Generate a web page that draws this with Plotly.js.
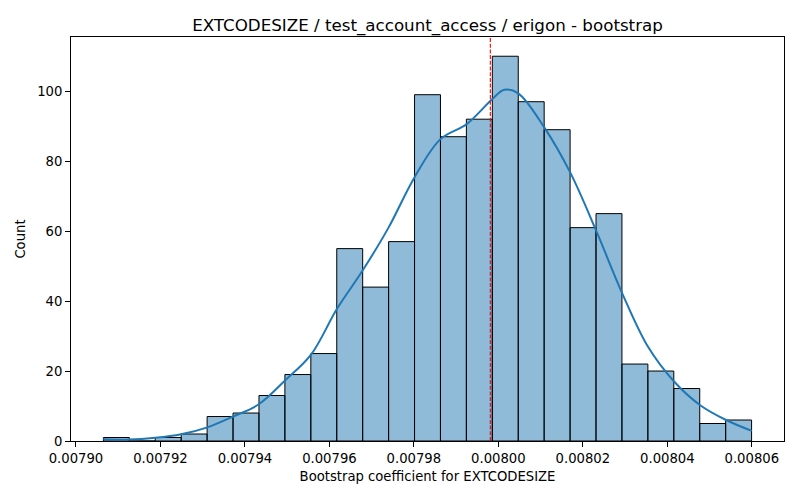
<!DOCTYPE html>
<html>
<head>
<meta charset="utf-8">
<script src="https://cdn.plot.ly/plotly-3.0.1.min.js"></script>
<style>
html,body{margin:0;padding:0;background:#fff;}
#chart{width:800px;height:500px;}
</style>
</head>
<body>
<div id="chart"></div>
<script>
// Histogram data
var binStart = 0.0079065;
var binWidth = 0.000006138;
var counts = [1, 0, 1, 2, 7, 8, 13, 19, 25, 55, 44, 57, 99, 87, 92, 110, 97, 89, 61, 65, 22, 20, 15, 5, 6];

// KDE curve
var kdeX = [0.0079065, 0.0079126, 0.0079188, 0.0079249, 0.0079311, 0.0079372, 0.0079433, 0.0079495,
            0.0079556, 0.0079618, 0.0079679, 0.0079740, 0.0079802, 0.0079863, 0.0079925, 0.0079986,
            0.0080014, 0.0080047, 0.0080109, 0.0080170, 0.0080232, 0.0080293, 0.0080354, 0.0080416,
            0.0080477, 0.0080539, 0.0080600];
var kdeY = [0.5, 0.4, 0.9, 1.9, 3.9, 7.0, 10.5, 17.3, 24.6, 37.8, 48.8, 61.0, 75.5, 86.3, 90.6, 97.8,
            100.4, 99.4, 89.6, 76.8, 60.0, 42.3, 27.0, 17.0, 10.3, 6.0, 2.9];

// Reference line (mean)
var meanValue = 0.0079981;

var xTicks = [0.00790, 0.00792, 0.00794, 0.00796, 0.00798, 0.00800, 0.00802, 0.00804, 0.00806];
var yTicks = [0, 20, 40, 60, 80, 100];

var centers = counts.map(function(c, i){ return binStart + binWidth * (i + 0.5); });
var lo = binStart, hi = binStart + binWidth * counts.length;
var pad = (hi - lo) * 0.05;
var yMax = 110 * 1.05;

var traces = [
  {
    type: 'bar',
    x: centers,
    y: counts,
    width: counts.map(function(){ return binWidth; }),
    marker: {color: 'rgba(31,119,180,0.5)', line: {color: '#000000', width: 1}},
    hoverinfo: 'x+y'
  },
  {
    type: 'scatter',
    mode: 'lines',
    x: kdeX,
    y: kdeY,
    line: {color: '#1f77b4', width: 2, shape: 'spline', smoothing: 1},
    hoverinfo: 'skip'
  },
  {
    type: 'scatter',
    mode: 'lines',
    x: [meanValue, meanValue],
    y: [0, yMax],
    line: {color: 'red', width: 1.1, dash: '4px,1.7px'},
    hoverinfo: 'skip'
  }
];

var font = {family: 'DejaVu Sans, sans-serif', size: 13.9, color: '#000'};

var layout = {
  width: 800,
  height: 500,
  margin: {l: 71, r: 16, t: 37, b: 59},
  paper_bgcolor: '#fff',
  plot_bgcolor: '#fff',
  showlegend: false,
  bargap: 0,
  font: font,
  title: {
    text: 'EXTCODESIZE / test_account_access / erigon - bootstrap',
    font: {family: 'DejaVu Sans, sans-serif', size: 16.7, color: '#000'},
    x: 0.5, xref: 'paper', xanchor: 'center',
    y: 1, yref: 'paper', yanchor: 'bottom', pad: {b: 6}
  },
  xaxis: {
    range: [lo - pad, hi + pad],
    tickvals: xTicks,
    ticktext: xTicks.map(function(v){ return v.toFixed(5); }),
    ticks: 'outside', ticklen: 5, tickwidth: 1, tickcolor: '#000',
    showline: true, linecolor: '#000', linewidth: 1, mirror: true,
    showgrid: false, zeroline: false,
    tickfont: {family: 'DejaVu Sans, sans-serif', size: 13.2, color: '#000'},
    title: {text: 'Bootstrap coefficient for EXTCODESIZE', font: {family: 'DejaVu Sans, sans-serif', size: 13.2, color: '#000'}, standoff: 6}
  },
  yaxis: {
    range: [0, yMax],
    tickvals: yTicks,
    ticks: 'outside', ticklen: 5, tickwidth: 1, tickcolor: '#000',
    showline: true, linecolor: '#000', linewidth: 1, mirror: true,
    showgrid: false, zeroline: false,
    tickfont: {family: 'DejaVu Sans, sans-serif', size: 13.2, color: '#000'},
    title: {text: 'Count', font: {family: 'DejaVu Sans, sans-serif', size: 13.2, color: '#000'}, standoff: 8}
  }
};

Plotly.newPlot('chart', traces, layout, {displayModeBar: false, staticPlot: true});
</script>
</body>
</html>
